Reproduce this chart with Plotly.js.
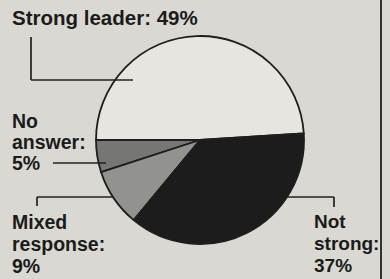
<!DOCTYPE html>
<html><head><meta charset="utf-8">
<script src="https://cdn.plot.ly/plotly-3.0.1.min.js"></script>
<style>html,body{margin:0;padding:0;background:#d9d8d2}#c{width:390px;height:279px}</style>
</head><body><div id="c"></div>
<script>
var categories = ["Strong leader", "No answer", "Mixed response", "Not strong"];
var values = [49, 5, 9, 37];
var labelLines = [
  ["Strong leader: 49%"],
  ["No", "answer:", "5%"],
  ["Mixed", "response:", "9%"],
  ["Not", "strong:", "37%"]
];
var colors = ["#e6e5df", "#767674", "#92928f", "#1c1c1c"];

var W = 390, H = 279;
function px(x){return x/W;}
function py(y){return 1 - y/H;}

var trace = {
  type: "pie",
  labels: categories,
  values: values,
  sort: false,
  direction: "counterclockwise",
  rotation: -90,
  textinfo: "none",
  hoverinfo: "none",
  showlegend: false,
  marker: {colors: colors, line: {color: "#1e1e1e", width: 1.8}},
  domain: {x: [px(96), px(304)], y: [py(246), py(34)]}
};

// label block anchors: left x, first line top, line step, font size
var blocks = [
  {x: 11, top: 5, step: 21, size: 20.5},
  {x: 11, top: 109, step: 21, size: 19.5},
  {x: 11, top: 210, step: 22, size: 19.5},
  {x: 313, top: 210, step: 22, size: 19}
];
var ann = [];
labelLines.forEach(function(lines, i){
  lines.forEach(function(t, j){
    ann.push({text: "<b>" + t + "</b>", x: px(blocks[i].x), y: py(blocks[i].top + j*blocks[i].step),
      xanchor: "left", yanchor: "top", align: "left", xref: "paper", yref: "paper",
      showarrow: false, borderpad: 0,
      font: {family: "Liberation Sans, Arial, sans-serif", size: blocks[i].size, color: "#1b1b1b"}});
  });
});

var lc = {color: "#222", width: 1.7};
function seg(x0,y0,x1,y1){return {type:"line", xref:"paper", yref:"paper", x0:px(x0), y0:py(y0), x1:px(x1), y1:py(y1), line: lc};}
var shapes = [
  seg(31, 37, 31, 80), seg(31, 80, 133, 80),
  seg(53, 163, 106, 163),
  seg(37, 197, 113, 197), seg(37, 197, 37, 206),
  seg(287, 197, 334, 197), seg(334, 197, 334, 207),
  {type:"line", xref:"paper", yref:"paper", x0:px(381), x1:px(381), y0:0, y1:1, line:{color:"#333", width:2}}
];

Plotly.newPlot("c", [trace], {
  width: W, height: H,
  margin: {l:0, r:0, t:0, b:0},
  paper_bgcolor: "#d9d8d2",
  annotations: ann,
  shapes: shapes
}, {staticPlot: true});
</script></body></html>
